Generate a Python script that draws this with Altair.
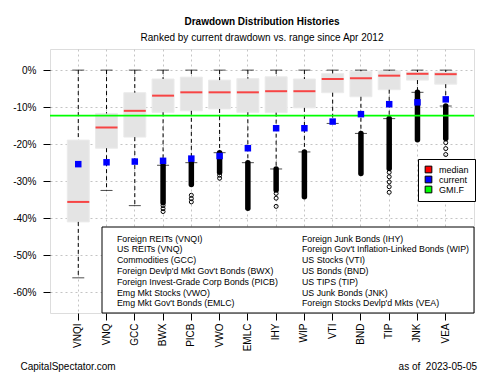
import altair as alt
import pandas as pd

FONT = "Liberation Sans"

tickers = ["VNQI", "VNQ", "GCC", "BWX", "PICB", "VWO", "EMLC",
           "IHY", "WIP", "VTI", "BND", "TIP", "JNK", "VEA"]
whisker_hi = [0, 0, 0, 0, 0, 0, 0, 0, 0, 0, 0, 0, 0, 0]
box_hi = [-18.9, -11.7, -6.1, -2.4, -1.9, -2.7, -2.3, -1.8, -2.4, -0.9, -0.3, -0.2, -0.5, -0.5]
median = [-35.6, -15.5, -11.0, -6.9, -6.0, -6.0, -6.0, -5.7, -5.7, -2.4, -2.2, -1.5, -1.0, -1.1]
box_lo = [-41.0, -21.1, -18.1, -11.4, -11.0, -10.5, -11.4, -11.5, -10.2, -6.1, -7.2, -5.3, -2.7, -3.8]
whisker_lo = [-56.1, -32.5, -36.6, -25.7, -25.0, -22.3, -25.0, -26.7, -22.1, -14.4, -17.1, -13.1, -6.0, -9.7]
current = [-25.4, -24.9, -24.7, -24.5, -23.9, -23.2, -21.1, -15.7, -15.7, -13.9, -11.9, -9.2, -8.7, -7.9]

# dense runs of outliers (drawn as a solid column of overlapping circles)
dense_tickers = ["BWX", "PICB", "VWO", "EMLC", "IHY", "WIP", "BND", "TIP", "JNK", "VEA"]
dense_top = [-25.7, -25.0, -22.3, -25.0, -26.7, -22.1, -17.1, -13.1, -6.0, -9.7]
dense_bottom = [-35.8, -30.9, -27.6, -37.3, -32.4, -34.2, -27.9, -26.6, -18.8, -18.5]

# sparse individual outliers
sparse_tickers = ["BWX", "BWX", "BWX", "PICB", "PICB", "PICB", "VWO", "VWO",
                  "IHY", "IHY", "IHY", "TIP", "TIP", "TIP", "TIP", "TIP",
                  "VEA", "VEA", "VEA"]
sparse_values = [-36.6, -37.4, -38.2, -33.8, -34.7, -35.6, -28.4, -29.2,
                 -33.3, -34.6, -36.8, -27.6, -28.8, -30.2, -31.5, -33.0,
                 -19.6, -21.2, -22.8]

gmi_f = [-12.3]

legend_keys = ["median", "current", "GMI.F"]
legend_colors = ["#ff0000", "#0000ff", "#00ff00"]

names_left = ["Foreign REITs (VNQI)", "US REITs (VNQ)", "Commodities (GCC)",
              "Foreign Devlp'd Mkt Gov't Bonds (BWX)", "Foreign Invest-Grade Corp Bonds (PICB)",
              "Emg Mkt Stocks (VWO)", "Emg Mkt Gov't Bonds (EMLC)"]
names_right = ["Foreign Junk Bonds (IHY)", "Foreign Gov't Inflation-Linked Bonds (WIP)",
               "US Stocks (VTI)", "US Bonds (BND)", "US TIPS (TIP)", "US Junk Bonds (JNK)",
               "Foreign Stocks Devlp'd Mkts (VEA)"]

y_ticks = [0, -10, -20, -30, -40, -50, -60]

box_df = pd.DataFrame({
    "ticker": tickers, "whisker_hi": whisker_hi, "box_hi": box_hi, "median": median,
    "box_lo": box_lo, "whisker_lo": whisker_lo, "current": current,
})
dense_df = pd.DataFrame({"ticker": dense_tickers, "top": dense_top, "bottom": dense_bottom})
sparse_df = pd.DataFrame({"ticker": sparse_tickers, "value": sparse_values})
gmi_df = pd.DataFrame({"value": gmi_f})
one = pd.DataFrame({"a": [0]})

x_axis = alt.Axis(labelAngle=-90, labelFontSize=10, labelFont=FONT, labelColor="black",
                  tickColor="black", tickSize=7, tickWidth=1, labelPadding=3, domain=False,
                  grid=True, gridColor="#c4c4c4", gridDash=[2, 3], bandPosition=0.5)
y_axis = alt.Axis(values=y_ticks, labelExpr="datum.value + '%'", labelFontSize=10,
                  labelFont=FONT, labelColor="black", tickColor="black", tickSize=7,
                  labelPadding=7, domain=False, grid=True, gridColor="#c4c4c4",
                  gridDash=[2, 3])
x_scale = alt.Scale(paddingInner=0, paddingOuter=0.5)
y_scale = alt.Scale(domain=[-65.6, 5.7], nice=False, zero=False)


def X():
    return alt.X("ticker:N", sort=tickers, title=None, scale=x_scale, axis=x_axis)


def Y(field):
    return alt.Y(f"{field}:Q", title=None, scale=y_scale, axis=y_axis)


base = alt.Chart(box_df)

boxes = base.mark_bar(size=22, fill="#e4e4e4", stroke="#ebebeb", strokeWidth=1).encode(
    x=X(), y=Y("box_hi"), y2="box_lo")
whisk_up = base.mark_rule(color="black", strokeWidth=1, strokeDash=[4, 3]).encode(
    x=X(), y=Y("whisker_hi"), y2="box_hi")
whisk_dn = base.mark_rule(color="black", strokeWidth=1, strokeDash=[4, 3]).encode(
    x=X(), y=Y("box_lo"), y2="whisker_lo")
cap_up = base.mark_tick(color="black", size=12, thickness=1).encode(x=X(), y=Y("whisker_hi"))
cap_dn = base.mark_tick(color="black", size=12, thickness=1).encode(x=X(), y=Y("whisker_lo"))
med = base.mark_tick(color="#ff0000", size=22, thickness=2).encode(x=X(), y=Y("median"))

dense = alt.Chart(dense_df).mark_rule(color="black", strokeWidth=5.5, strokeCap="round").encode(
    x=X(), y=Y("top"), y2="bottom")
sparse = alt.Chart(sparse_df).mark_point(shape="circle", size=16, filled=False,
                                         color="black", strokeWidth=1, opacity=1).encode(
    x=X(), y=Y("value"))

gmi = alt.Chart(gmi_df).mark_rule(color="#00ff00", strokeWidth=1.6).encode(y=Y("value"))

cur = base.mark_square(size=42, filled=True, opacity=1).transform_calculate(
    key="'current'").encode(
    x=X(), y=Y("current"),
    color=alt.Color("key:N", scale=alt.Scale(domain=legend_keys, range=legend_colors),
                    legend=alt.Legend(orient="none", legendX=368, legendY=110, title=None,
                                      symbolType="square", symbolSize=45,
                                      symbolStrokeColor="black", symbolStrokeWidth=1,
                                      symbolOpacity=1,
                                      labelFont=FONT, labelFontSize=9, labelColor="black",
                                      padding=6, rowPadding=-2, labelOffset=6,
                                      strokeColor="black", fillColor="white")))

text_box = alt.Chart(one).mark_rect(fill="white", stroke="black", strokeWidth=1).encode(
    x=alt.value(52), x2=alt.value(424), y=alt.value(178), y2=alt.value(264))
txt_left = alt.Chart(one).mark_text(text="\n".join(names_left), lineBreak="\n", lineHeight=10.8,
                                    align="left", baseline="alphabetic", font=FONT,
                                    fontSize=8.8, color="black").encode(
    x=alt.value(67), y=alt.value(192.5))
txt_right = alt.Chart(one).mark_text(text="\n".join(names_right), lineBreak="\n", lineHeight=10.8,
                                     align="left", baseline="alphabetic", font=FONT,
                                     fontSize=8.8, color="black").encode(
    x=alt.value(252), y=alt.value(192.5))

foot_l = alt.Chart(one).mark_text(text="CapitalSpectator.com", align="left", baseline="middle",
                                  font=FONT, fontSize=10, color="black").encode(
    x=alt.value(-29.5), y=alt.value(318))
foot_r = alt.Chart(one).mark_text(text="as of\u00a0\u00a02023-05-05", align="right",
                                  baseline="middle", font=FONT, fontSize=10,
                                  color="black").encode(
    x=alt.value(427), y=alt.value(318))

chart = alt.layer(
    boxes, whisk_up, whisk_dn, cap_up, cap_dn, med, dense, sparse, gmi, cur,
    text_box, txt_left, txt_right, foot_l, foot_r
).properties(
    width=424, height=264,
    autosize=alt.AutoSizeParams(type="none"),
    padding={"left": 50, "top": 49, "right": 26, "bottom": 62},
    title=alt.Title("Drawdown Distribution Histories",
                    subtitle="Ranked by current drawdown vs. range since Apr 2012",
                    font=FONT, fontSize=10, fontWeight="bold", color="black",
                    subtitleFont=FONT, subtitleFontSize=10, subtitleColor="black",
                    anchor="middle", offset=6, subtitlePadding=6),
).configure_view(stroke="black", strokeWidth=1).configure(background="white")

chart.save("out.html", embed_options={"renderer": "svg", "actions": False})
